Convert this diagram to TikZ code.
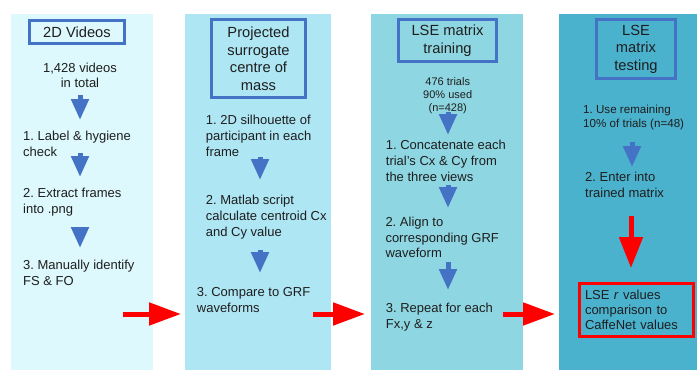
\documentclass[tikz,border=0pt]{standalone}
\usepackage{fontspec}
\setmainfont{Liberation Sans}
\usetikzlibrary{arrows.meta}
\definecolor{pA}{RGB}{221,249,253}
\definecolor{pB}{RGB}{174,230,244}
\definecolor{pC}{RGB}{142,215,226}
\definecolor{pD}{RGB}{75,178,206}
\definecolor{bl}{RGB}{68,114,196}
\definecolor{rd}{RGB}{255,0,0}
\definecolor{tx}{RGB}{30,30,30}
\frenchspacing
\begin{document}
\begin{tikzpicture}[x=1pt,y=-1pt,
  panel/.style={draw=none,anchor=north west,inner sep=0pt},
  titlebox/.style={draw=bl,line width=3pt,align=center,inner sep=0pt,text=tx,
    font=\fontsize{14.7}{17.5}\selectfont},
  body/.style={align=left,anchor=north west,inner sep=0pt,text=tx,
    font=\fontsize{13}{15.8}\selectfont},
  smalltext/.style={align=center,anchor=north,inner sep=0pt,text=tx,
    font=\fontsize{11}{13}\selectfont},
  flow/.style={line width=5pt,draw=bl,-{Triangle[length=21pt,width=17pt]}},
  jump/.style={line width=5pt,draw=rd,-{Triangle[length=32pt,width=22pt]}},
  drop/.style={line width=5pt,draw=rd,-{Triangle[length=31pt,width=23pt]}}]
\useasboundingbox (0,0) rectangle (697,370);
\fill[white] (0,0) rectangle (697,370);
% panels
\node[panel,fill=pA,minimum width=142pt,minimum height=356pt] (p1) at (11,14) {};
\node[panel,fill=pB,minimum width=146pt,minimum height=356pt] (p2) at (185,14) {};
\node[panel,fill=pC,minimum width=152pt,minimum height=356pt] (p3) at (371,14) {};
\node[panel,fill=pD,minimum width=138pt,minimum height=356pt] (p4) at (559,14) {};
% titles
\node[titlebox,minimum width=95pt,minimum height=23pt] (t1) at (77,32) {2D Videos};
\node[titlebox,minimum width=94pt,minimum height=78pt] (t2) at (258.5,58.5) {Projected\\surrogate\\centre of\\mass};
\node[titlebox,minimum width=98pt,minimum height=42pt] (t3) at (447.5,40.5) {LSE matrix\\training};
\node[titlebox,minimum width=79pt,minimum height=59pt] (t4) at (636,49) {LSE\\matrix\\testing};
% panel 1
\node[body,align=center,anchor=north,font=\fontsize{13}{15}\selectfont] (n10) at (80,63) {1,428 videos\\in total};
\node[body] (n11) at (23,131) {1. Label \& hygiene\\check};
\node[body] (n12) at (23,188) {2. Extract frames\\into .png};
\node[body] (n13) at (23,260) {3. Manually identify\\FS \& FO};
% panel 2
\node[body] (n21) at (205.7,115) {1. 2D silhouette of\\participant in each\\frame};
\node[body] (n22) at (205.7,195) {2. Matlab script\\calculate centroid Cx\\and Cy value};
\node[body] (n23) at (196.7,287) {3. Compare to GRF\\waveforms};
% panel 3
\node[smalltext] (n30) at (447.7,77) {476 trials\\90\% used\\(n=428)};
\node[body] (n31) at (385.7,140) {1. Concatenate each\\trial’s Cx \& Cy from\\the three views};
\node[body] (n32) at (385.3,216.7) {2. Align to\\corresponding GRF\\waveform};
\node[body] (n33) at (385.7,303) {3. Repeat for each\\Fx,y \& z};
% panel 4
\node[body,font=\fontsize{11.6}{14}\selectfont] (n41) at (583,105) {1. Use remaining\\10\% of trials (n=48)};
\node[body] (n42) at (585,172) {2. Enter into\\trained matrix};
\node[draw=rd,line width=3pt,align=left,text width=103pt,inner xsep=5.5pt,inner ysep=0pt,
  minimum height=53pt,text=tx,font=\fontsize{13}{15.3}\selectfont] (res) at (636.5,310)
  {LSE \textit{r} values\\comparison to\\CaffeNet values};
% arrow end points
\coordinate (a1s) at (80,95);   \coordinate (a1e) at (80,120);
\coordinate (a2s) at (80,153);  \coordinate (a2e) at (80,177);
\coordinate (a3s) at (80,227);  \coordinate (a3e) at (80,248);
\coordinate (b1s) at (260,157); \coordinate (b1e) at (260,180);
\coordinate (b2s) at (260,250); \coordinate (b2e) at (260,273);
\coordinate (c1s) at (448,112); \coordinate (c1e) at (448,135);
\coordinate (c2s) at (448,185); \coordinate (c2e) at (448,208);
\coordinate (c3s) at (448,262); \coordinate (c3e) at (448,290);
\coordinate (d1s) at (632,142); \coordinate (d1e) at (632,167);
\coordinate (r1s) at (123,314); \coordinate (r1e) at (181,314);
\coordinate (r2s) at (313,314); \coordinate (r2e) at (365,314);
\coordinate (r3s) at (503,314); \coordinate (r3e) at (555,314);
\coordinate (r4s) at (631,216); \coordinate (r4e) at (631,268);
% blue flow arrows
\draw[flow] (a1s) -- (a1e);
\draw[flow] (a2s) -- (a2e);
\draw[flow] (a3s) -- (a3e);
\draw[flow] (b1s) -- (b1e);
\draw[flow] (b2s) -- (b2e);
\draw[flow] (c1s) -- (c1e);
\draw[flow] (c2s) -- (c2e);
\draw[flow] (c3s) -- (c3e);
\draw[flow] (d1s) -- (d1e);
% red arrows
\draw[jump] (r1s) -- (r1e);
\draw[jump] (r2s) -- (r2e);
\draw[jump] (r3s) -- (r3e);
\draw[drop] (r4s) -- (r4e);
\end{tikzpicture}
\end{document}
